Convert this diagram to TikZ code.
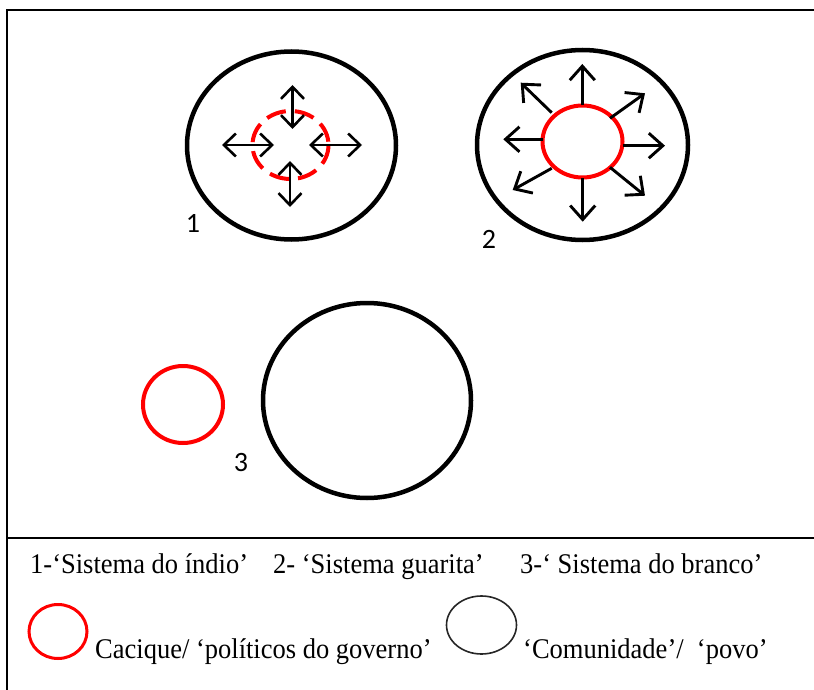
\documentclass[tikz,border=0pt]{standalone}
\usepackage{fontspec}
\usepackage{graphicx}
\setmainfont{Liberation Serif}
\newfontfamily\calibfont{Carlito}
\usetikzlibrary{arrows.meta}
\newcommand\legtxt[1]{\scalebox{0.93}[1]{\fontsize{28.5bp}{34bp}\selectfont #1}}
\begin{document}
\begin{tikzpicture}[x=1bp,y=-1bp,
  frame/.style={line width=2bp, line cap=rect},
  outerc/.style={draw=black, line width=4.5bp},
  redc/.style={draw=red, line width=4bp},
  reddash/.style={draw=red, line width=4bp, dash pattern=on 20bp off 9bp},
  barbA/.style={line width=2.6bp, {Straight Barb[length=12bp,width=23bp]}-{Straight Barb[length=12bp,width=23bp]}},
  barbB/.style={line width=2.9bp, -{Straight Barb[length=14bp,width=25bp]}},
  numlbl/.style={font=\calibfont\fontsize{28bp}{32bp}\selectfont, anchor=base, inner sep=0pt},
  leg/.style={anchor=base west, inner sep=0pt}]
\useasboundingbox (0,0) rectangle (814,690);
% frame
\coordinate (tl) at (7,10);
\coordinate (tr) at (814,10);
\coordinate (bl) at (7,690);
\coordinate (ml) at (7,538);
\coordinate (mr) at (814,538);
\draw[frame] (tr) -- (tl) -- (bl);
\draw[line width=2bp] (ml) -- (mr);
% system 1
\draw[outerc] (291.5,145.5) ellipse [x radius=104.5, y radius=94];
\draw[reddash] (290.5,145) ellipse [x radius=38, y radius=34];
\coordinate (a1t) at (292.5,85);  \coordinate (a1b) at (292.5,129);
\coordinate (a2t) at (290,161);   \coordinate (a2b) at (290,207);
\coordinate (a3l) at (222,145);   \coordinate (a3r) at (274,145);
\coordinate (a4l) at (309,145);   \coordinate (a4r) at (362,145);
\draw[barbA] (a1t) -- (a1b);
\draw[barbA] (a2t) -- (a2b);
\draw[barbA] (a3l) -- (a3r);
\draw[barbA] (a4l) -- (a4r);
\node[numlbl] (n1) at (193,232) {1};
% system 2
\draw[outerc] (582.5,145) ellipse [x radius=105.5, y radius=95];
\draw[redc] (582.5,141.5) ellipse [x radius=40, y radius=36];
\draw[barbB] (582.3,105) -- (582.3,64);
\draw[barbB] (582.7,178) -- (582.7,221.7);
\draw[barbB] (542.5,139.3) -- (503.3,139.3);
\draw[barbB] (622.5,145.7) -- (665,145.7);
\draw[barbB] (551.7,112.7) -- (520.7,82.7);
\draw[barbB] (610,118.3) -- (645,93.3);
\draw[barbB] (551.7,168.3) -- (512.7,190);
\draw[barbB] (610,167.3) -- (645,195.7);
\node[numlbl] (n2) at (489,248) {2};
% system 3
\draw[redc] (183,404.5) ellipse [x radius=40, y radius=38.5];
\draw[outerc] (367,400.5) ellipse [x radius=104, y radius=97.5];
\node[numlbl] (n3) at (241,471) {3};
% legend
\node[leg] (t1) at (30,573) {\legtxt{1-‘Sistema do índio’}};
\node[leg] (t2) at (273,573) {\legtxt{2- ‘Sistema guarita’}};
\node[leg] (t3) at (520,573) {\legtxt{3-‘ Sistema do branco’}};
\draw[draw=red, line width=3bp] (58,631.5) ellipse [x radius=29, y radius=27];
\draw[draw=black!85, line width=1.6bp] (481.5,625) ellipse [x radius=35, y radius=29];
\node[leg] (t4) at (95,658) {\legtxt{Cacique/ ‘políticos do governo’}};
\node[leg] (t5) at (523,658) {\legtxt{‘Comunidade’/\ \ ‘povo’}};
\end{tikzpicture}
\end{document}
